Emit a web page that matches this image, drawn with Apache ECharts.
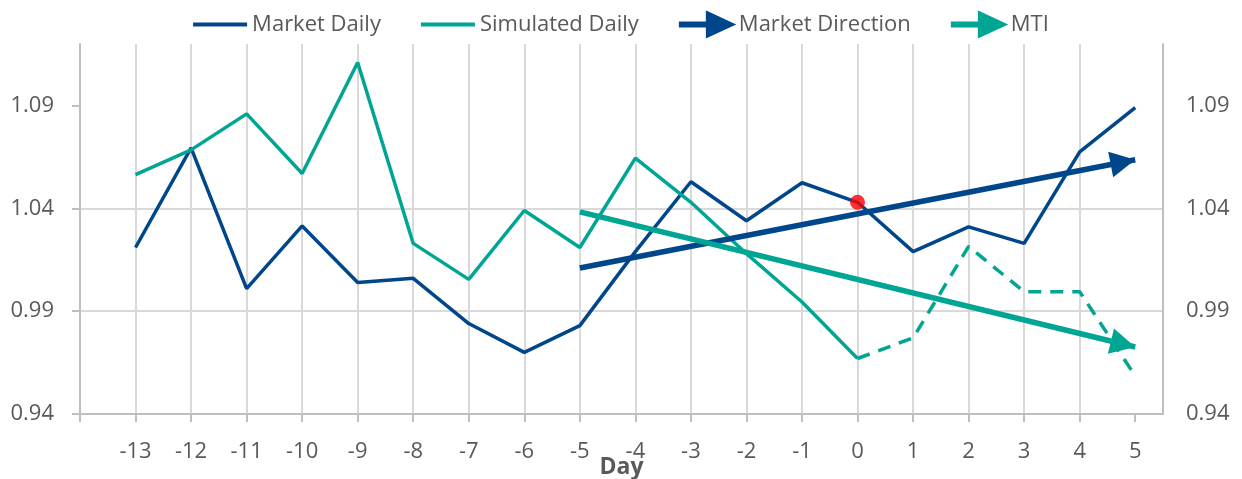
<!DOCTYPE html>
<html>
<head>
<meta charset="utf-8">
<script src="https://cdn.jsdelivr.net/npm/echarts@6/dist/echarts.min.js"></script>
<style>
  html, body { margin: 0; padding: 0; background: #fff; }
  #main { width: 1242px; height: 479px; }
</style>
</head>
<body>
<div id="main"></div>
<script>
// day axis
var days = [-13, -12, -11, -10, -9, -8, -7, -6, -5, -4, -3, -2, -1, 0, 1, 2, 3, 4, 5];
var yTicks = [0.94, 0.99, 1.04, 1.09];

// daily values
var marketDaily = [1.021, 1.0695, 1.001, 1.0315, 1.004, 1.006, 0.984, 0.970, 0.983,
                   1.019, 1.053, 1.034, 1.0525, 1.043, 1.019, 1.031, 1.023, 1.0675, 1.089];
var simDays = [-13, -12, -11, -10, -9, -8, -7, -6, -5, -4, -3, -2, -1, 0];
var simulatedDaily = [1.0565, 1.0685, 1.086, 1.057, 1.111, 1.023, 1.0055, 1.039, 1.021,
                      1.0645, 1.043, 1.018, 0.9945, 0.967];
var mtiDays = [0, 1, 2, 3, 4, 5];
var mtiDaily = [0.967, 0.977, 1.0215, 0.9995, 0.9995, 0.9585];

// trend arrows: [start day, end day], [start value, end value]
var dirDays = [-5, 5];
var marketDirection = [1.011, 1.0637];
var mtiTrend = [1.0383, 0.9726];

var todayPoint = [0, 1.043];

var blue = '#00468b';
var teal = '#00a593';
var txt = '#595959';
var fontName = 'Open Sans';

function pairs(xs, ys) {
    return xs.map(function (x, i) { return [x, ys[i]]; });
}

var lineIcon = 'path://M0,0 H54 V4 H0 Z';
var arrowIcon = 'path://M0,10.5 H31 V14.5 H0 Z M27,0 L54,12.5 L27,25 Z';
// arrow head with its tip at the centre of the symbol box, so the tip sits on the end point
var headPath = 'path://M0,0 M50,0 M25,25 L38,50 L12,50 Z';

var myChart = echarts.init(document.getElementById('main'));

var option = {
    animation: false,
    textStyle: { fontFamily: fontName },
    legend: {
        top: 6,
        left: 'center',
        itemGap: 40,
        itemWidth: 54,
        itemHeight: 25,
        textStyle: { color: txt, fontSize: 22, fontFamily: fontName },
        data: [
            { name: 'Market Daily', icon: lineIcon, itemHeight: 4 },
            { name: 'Simulated Daily', icon: lineIcon, itemHeight: 4 },
            { name: 'Market Direction', icon: arrowIcon },
            { name: 'MTI', icon: arrowIcon }
        ]
    },
    grid: { left: 80, right: 79, top: 44, bottom: 65, containLabel: false, outerBoundsMode: 'none' },
    xAxis: {
        type: 'value',
        min: -14,
        max: 5.5,
        interval: 1,
        name: 'Day',
        nameLocation: 'middle',
        nameGap: 42,
        nameMoveOverlap: false,
        nameTextStyle: { color: txt, fontSize: 23, fontWeight: 'bold', fontFamily: fontName },
        axisLine: { show: true, onZero: false, lineStyle: { color: '#bfbfbf', width: 2 } },
        axisTick: { show: true, length: 8, lineStyle: { color: '#bfbfbf', width: 2 },
                    customValues: [-14].concat(days) },
        axisLabel: { color: txt, fontSize: 22, margin: 27, customValues: days,
                     formatter: function (v) { return String(v); } },
        splitLine: { show: true, showMinLine: false, showMaxLine: false,
                     lineStyle: { color: '#d9d9d9', width: 2 } }
    },
    yAxis: [
        {
            type: 'value',
            min: 0.94,
            max: 1.12,
            interval: 0.05,
            position: 'left',
            axisLine: { show: true, onZero: false, lineStyle: { color: '#bfbfbf', width: 2 } },
            axisTick: { show: true, length: 8, lineStyle: { color: '#bfbfbf', width: 2 },
                        customValues: yTicks },
            axisLabel: { color: txt, fontSize: 22, margin: 26, customValues: yTicks,
                         formatter: function (v) { return v.toFixed(2); } },
            splitLine: { show: true, showMinLine: false, showMaxLine: false,
                         lineStyle: { color: '#d9d9d9', width: 2 } }
        },
        {
            type: 'value',
            min: 0.94,
            max: 1.12,
            interval: 0.05,
            position: 'right',
            axisLine: { show: true, onZero: false, lineStyle: { color: '#bfbfbf', width: 2 } },
            axisTick: { show: false },
            axisLabel: { color: txt, fontSize: 22, margin: 23, customValues: yTicks,
                         formatter: function (v) { return v.toFixed(2); } },
            splitLine: { show: false }
        }
    ],
    series: [
        {
            name: 'Market Daily',
            type: 'line',
            data: pairs(days, marketDaily),
            showSymbol: false,
            symbol: 'none',
            lineStyle: { color: blue, width: 3.5 },
            itemStyle: { color: blue },
            z: 3
        },
        {
            name: 'Simulated Daily',
            type: 'line',
            data: pairs(simDays, simulatedDaily),
            showSymbol: false,
            symbol: 'none',
            lineStyle: { color: teal, width: 3.5 },
            itemStyle: { color: teal },
            z: 3
        },
        {
            name: 'MTI Forecast',
            type: 'line',
            data: pairs(mtiDays, mtiDaily),
            showSymbol: false,
            symbol: 'none',
            lineStyle: { color: teal, width: 3.5, type: [13, 9] },
            itemStyle: { color: teal },
            z: 3
        },
        {
            name: 'Market Direction',
            type: 'lines',
            coordinateSystem: 'cartesian2d',
            symbol: ['none', headPath],
            symbolSize: [0, 50],
            lineStyle: { color: blue, width: 5.5, opacity: 1, curveness: 0 },
            itemStyle: { color: blue },
            data: [{ coords: pairs(dirDays, marketDirection) }],
            z: 4
        },
        {
            name: 'MTI',
            type: 'lines',
            coordinateSystem: 'cartesian2d',
            symbol: ['none', headPath],
            symbolSize: [0, 50],
            lineStyle: { color: teal, width: 5.5, opacity: 1, curveness: 0 },
            itemStyle: { color: teal },
            data: [{ coords: pairs(dirDays, mtiTrend) }],
            z: 4
        },
        {
            name: 'Today',
            type: 'scatter',
            data: [todayPoint],
            symbolSize: 15,
            itemStyle: { color: '#ff0000' },
            z: 5
        }
    ]
};

myChart.setOption(option);
</script>
</body>
</html>
